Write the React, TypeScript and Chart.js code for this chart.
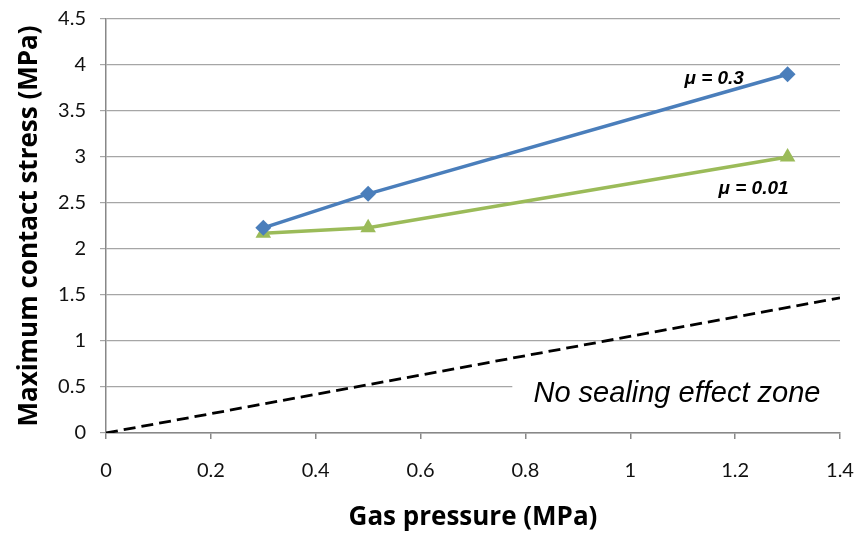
import React, { useEffect, useRef } from "react";
import { Chart, registerables } from "chart.js";

Chart.register(...registerables);

// Data
const gasPressure = [0.3, 0.5, 1.3];
const stressMu03 = [2.23, 2.6, 3.9];
const stressMu001 = [2.17, 2.23, 3.0];
const boundaryPressure = [0, 1.4];
const boundaryStress = [0, 1.47];

const labelMu03 = "\u03bc = 0.3";
const labelMu001 = "\u03bc = 0.01";
const zoneLabel = "No sealing effect zone";
const xTitle = "Gas pressure (MPa)";
const yTitle = "Maximum contact stress (MPa)";

const toPts = (xs: number[], ys: number[]) => xs.map((x, i) => ({ x, y: ys[i] }));

const annotations = {
  id: "annotations",
  beforeDatasetsDraw(chart: any) {
    const { ctx, scales, chartArea } = chart;
    const x = scales.x, y = scales.y;
    ctx.save();
    ctx.fillStyle = "#ffffff";
    const left = x.getPixelForValue(0.775);
    const top = y.getPixelForValue(0.72);
    const bottom = y.getPixelForValue(0.2);
    ctx.fillRect(left, top, chartArea.right - left + 2, bottom - top);
    ctx.restore();
  },
  afterDatasetsDraw(chart: any) {
    const { ctx, scales } = chart;
    const x = scales.x, y = scales.y;
    ctx.save();
    ctx.fillStyle = "#000000";
    ctx.textAlign = "center";
    ctx.textBaseline = "middle";
    ctx.font = "italic 29px 'Liberation Sans', Arial, sans-serif";
    ctx.fillText(zoneLabel, x.getPixelForValue(1.089), y.getPixelForValue(0.43));
    ctx.font = "italic bold 19px 'Liberation Sans', Arial, sans-serif";
    ctx.fillText(labelMu03, x.getPixelForValue(1.16), y.getPixelForValue(3.85));
    ctx.fillText(labelMu001, x.getPixelForValue(1.235), y.getPixelForValue(2.66));
    ctx.restore();
  },
};

const tickFont = { family: "Lato, 'Open Sans', sans-serif", size: 20 };
const titleFont = { family: "'Open Sans', Lato, sans-serif", size: 26, weight: "bold" as const };

export default function App() {
  const ref = useRef<HTMLCanvasElement | null>(null);
  useEffect(() => {
    if (!ref.current) return;
    const chart = new Chart(ref.current, {
      type: "scatter",
      data: {
        datasets: [
          {
            label: "boundary",
            data: toPts(boundaryPressure, boundaryStress),
            showLine: true,
            borderColor: "#000000",
            borderWidth: 2.8,
            borderDash: [12, 6],
            pointRadius: 0,
            order: 3,
          },
          {
            label: "mu001",
            data: toPts(gasPressure, stressMu001),
            showLine: true,
            borderColor: "#9BBB59",
            backgroundColor: "#9BBB59",
            borderWidth: 3.5,
            pointStyle: "triangle",
            pointRadius: 9,
            pointBorderWidth: 0,
            order: 2,
          },
          {
            label: "mu03",
            data: toPts(gasPressure, stressMu03),
            showLine: true,
            borderColor: "#4A7EBB",
            backgroundColor: "#4A7EBB",
            borderWidth: 3.5,
            pointStyle: "rectRot",
            pointRadius: 8,
            pointBorderWidth: 0,
            order: 1,
          },
        ],
      },
      options: {
        animation: false,
        responsive: false,
        layout: { padding: { left: 0, top: 19, right: 19, bottom: 0 } },
        plugins: { legend: { display: false }, tooltip: { enabled: false } },
        scales: {
          x: {
            type: "linear",
            min: 0,
            max: 1.4,
            ticks: {
              stepSize: 0.2,
              color: "#111111",
              font: tickFont,
              padding: 20,
              callback: (v: any) => String(Number(Number(v).toFixed(1))),
            },
            grid: { drawOnChartArea: false, drawTicks: true, tickLength: 6, color: "#888888", lineWidth: 1.5 },
            border: { color: "#888888", width: 1.5 },
            title: {
              display: true,
              text: xTitle,
              color: "#000000",
              font: titleFont,
              padding: { top: 0, bottom: 0 },
            },
            afterFit: (s: any) => {
              s.height = 100;
              s.paddingLeft = 0;
              s.paddingRight = 0;
            },
          },
          y: {
            type: "linear",
            min: 0,
            max: 4.5,
            ticks: {
              stepSize: 0.5,
              color: "#111111",
              font: tickFont,
              padding: 14,
              callback: (v: any) => String(Number(Number(v).toFixed(1))),
            },
            grid: { drawOnChartArea: true, drawTicks: true, tickLength: 6, color: "#a6a6a6", lineWidth: 1.2 },
            border: { color: "#888888", width: 1.5 },
            title: {
              display: true,
              text: yTitle,
              color: "#000000",
              font: titleFont,
              padding: { top: 14, bottom: 0 },
            },
            afterFit: (s: any) => {
              s.width = 106;
              s.paddingTop = 0;
              s.paddingBottom = 0;
            },
          },
        },
      },
      plugins: [annotations],
    });
    return () => chart.destroy();
  }, []);
  return (
    <div style={{ position: "fixed", left: 0, top: 0, width: 859, height: 533, background: "#ffffff" }}>
      <canvas ref={ref} width={859} height={533} style={{ display: "block" }} />
    </div>
  );
}
